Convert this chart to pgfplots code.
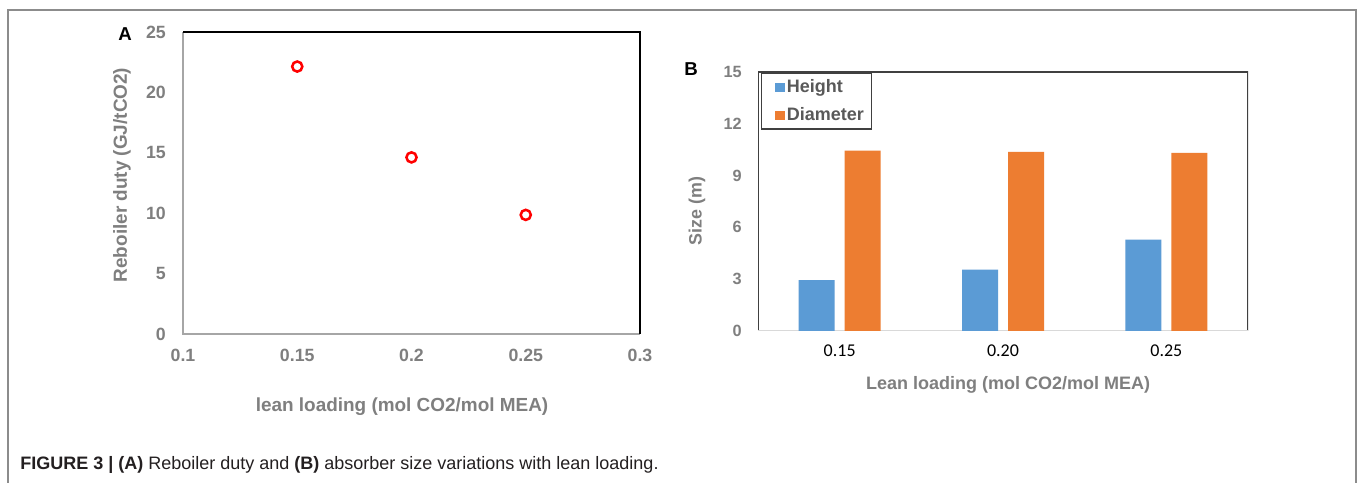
\documentclass[border=0pt]{standalone}
\usepackage{fontspec}
\setmainfont{Liberation Sans}
\newfontfamily\calibri{Carlito}
\usepackage{pgfplots}
\pgfplotsset{compat=1.18}
\definecolor{tgray}{HTML}{7F7F7F}
\definecolor{hblue}{HTML}{5B9BD5}
\definecolor{dorange}{HTML}{ED7D31}
\definecolor{framegray}{HTML}{8C8C8C}
\definecolor{dgray}{HTML}{404040}
\definecolor{mgray}{HTML}{595959}
\definecolor{lgray}{HTML}{D9D9D9}
\definecolor{agray}{HTML}{A6A6A6}
\begin{document}
\begin{tikzpicture}[x=0.75pt,y=0.75pt]
\path[fill=white] (0,0) rectangle (1358,483);
\draw[framegray, line width=1.5pt, line join=miter] (8,0) -- (8,473) -- (1356,473) -- (1356,0);
% Panel A
\begin{axis}[
 at={(137.25pt,111.75pt)}, anchor=south west, scale only axis,
 width=342.75pt, height=226.5pt,
 xmin=0.1, xmax=0.3, ymin=0, ymax=25,
 xtick={0.1,0.15,0.2,0.25,0.3}, xticklabels={0.1,0.15,0.2,0.25,0.3},
 ytick={0,5,10,15,20,25}, yticklabels={0,5,10,15,20,25},
 major tick length=0pt,
 axis line style={draw=none},
 ticklabel style={font=\fontsize{13.3}{15}\selectfont\bfseries, text=tgray},
 xticklabel style={anchor=center, yshift=-15.75pt, inner sep=0pt},
 yticklabel style={anchor=east, xshift=-12.75pt, inner sep=0pt},
 clip=false,
]
\draw[agray, line width=1.3pt] (rel axis cs:0,1) -- (rel axis cs:0,0) -- (rel axis cs:1,0);
\draw[black, line width=1.3pt] (rel axis cs:0,1) -- (rel axis cs:1,1) -- (rel axis cs:1,0);
\addplot[only marks, mark=o, mark size=3.8pt, mark options={line width=1.9pt, draw=red}] coordinates {(0.15,22.14) (0.2,14.62) (0.25,9.86)};
\end{axis}
% Panel B
\begin{axis}[
 at={(568.5pt,114pt)}, anchor=south west, scale only axis,
 width=367.5pt, height=194.25pt,
 xmin=-0.5, xmax=2.5, ymin=0, ymax=15,
 xtick={0,1,2}, xticklabels={0.15,0.20,0.25},
 ytick={0,3,6,9,12,15}, yticklabels={0,3,6,9,12,15},
 ybar, bar width=27pt,
 every axis plot post/.append style={legend image code/.code={\path (0pt,0pt); \fill[##1] (6.5pt,-3.3pt) rectangle (13.5pt,3.3pt);}},
 major tick length=0pt,
 axis line style={draw=none},
 yticklabel style={font=\fontsize{12.2}{14}\selectfont\bfseries, text=tgray, anchor=east, xshift=-12pt, inner sep=0pt},
 xticklabel style={font=\calibri\fontsize{13.5}{15}\selectfont, text=black, anchor=center, yshift=-15pt, inner sep=0pt},
 legend style={at={(0.006,0.996)}, anchor=north west, draw=dgray, line width=0.8pt,
   font=\fontsize{13.5}{15}\selectfont\bfseries, text=mgray, inner xsep=4pt, inner ysep=2.75pt, row sep=5.5pt,
   nodes={inner xsep=1.5pt}},
 legend cell align=left,
]
\draw[dgray, line width=1pt] (rel axis cs:0,0) -- (rel axis cs:0,1) -- (rel axis cs:1,1) -- (rel axis cs:1,0);
\draw[lgray, line width=1pt] (rel axis cs:0,0) -- (rel axis cs:1,0);
\addplot[fill=hblue, draw=none, bar shift=-17.25pt] coordinates {(0,2.95) (1,3.55) (2,5.29)};
\addplot[fill=dorange, draw=none, bar shift=17.25pt] coordinates {(0,10.44) (1,10.38) (2,10.31)};
\legend{Height, Diameter}
\end{axis}
% labels
\node[font=\fontsize{14.2}{16}\selectfont\bfseries, text=tgray] at (402,76) {lean loading (mol CO2/mol MEA)};
\node[font=\fontsize{14.2}{16}\selectfont\bfseries, text=tgray, rotate=90] at (122,308) {Reboiler duty (GJ/tCO2)};
\node[font=\fontsize{13.5}{16}\selectfont\bfseries, text=tgray] at (1008,98) {Lean loading (mol CO2/mol MEA)};
\node[font=\fontsize{13.4}{16}\selectfont\bfseries, text=tgray, rotate=90] at (697,272) {Size (m)};
\node[font=\fontsize{14}{16}\selectfont\bfseries] at (125,449) {A};
\node[font=\fontsize{14}{16}\selectfont\bfseries] at (691,414) {B};
\node[anchor=west, font=\fontsize{13.5}{16}\selectfont, inner sep=0pt, text={rgb,255:red,35;green,31;blue,32}] at (20,18) {\textbf{FIGURE 3 | (A)} Reboiler duty and \textbf{(B)} absorber size variations with lean loading.};
\end{tikzpicture}
\end{document}
